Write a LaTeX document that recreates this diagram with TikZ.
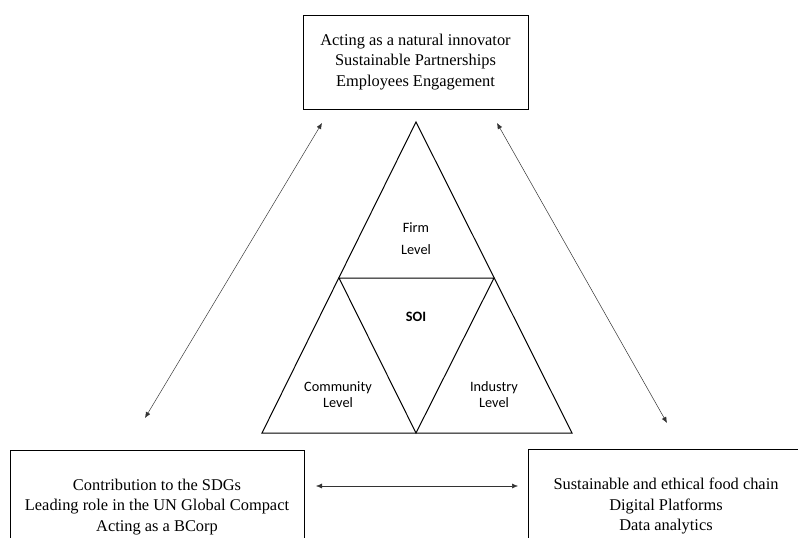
\documentclass[tikz,border=0pt]{standalone}
\usepackage{fontspec}
\setmainfont{Liberation Serif}
\newfontfamily\calibrifont{Carlito}
\usetikzlibrary{arrows.meta}

\tikzset{
  infobox/.style={draw, line width=0.9pt, align=center, inner sep=0pt,
    font=\fontsize{16.4}{20.2}\selectfont},
  level/.style={align=center, inner sep=1pt, font=\calibrifont\fontsize{14.3}{22}\selectfont},
  link/.style={{Latex[length=6pt,width=5pt]}-{Latex[length=6pt,width=5pt]}, line width=0.5pt, black!80}
}

\begin{document}
\begin{tikzpicture}[x=1pt, y=-1pt]
  \clip (0,0) rectangle (798,538);
  % boxes
  \node[infobox, minimum width=225pt, minimum height=94pt] (firmbox) at (415.5,62)
    {Acting as a natural innovator\\Sustainable Partnerships\\Employees Engagement};
  \node[infobox, minimum width=294pt, minimum height=114pt] (commbox) at (157,507)
    {Contribution to the SDGs\\Leading role in the UN Global Compact\\Acting as a BCorp};
  \node[infobox, minimum width=276pt, minimum height=114pt] (indbox) at (666,506)
    {Sustainable and ethical food chain\\Digital Platforms\\Data analytics};

  % triangle
  \coordinate (apex) at (416,122);
  \coordinate (bl) at (262,433);
  \coordinate (br) at (572,433);
  \coordinate (bm) at (416,433);
  \coordinate (ml) at (339,278);
  \coordinate (mr) at (494,278);
  \draw[line width=1pt, line join=miter] (apex) -- (br) -- (bl) -- cycle;
  \draw[line width=1pt] (ml) -- (mr) -- (bm) -- cycle;
  \node[level] (firm) at (416,239) {Firm\\Level};
  \node[level, font=\calibrifont\bfseries\fontsize{14.3}{22}\selectfont] (soi) at (416,317) {SOI};
  \node[level] (community) at (338,395) {Community\\[-6pt]Level};
  \node[level] (industry) at (494,395) {Industry\\[-6pt]Level};

  % connectors
  \coordinate (lt) at (322,123);
  \coordinate (lb) at (145,418);
  \coordinate (rt) at (497,123);
  \coordinate (rb) at (667,423);
  \coordinate (hl) at (316,486);
  \coordinate (hr) at (518,486);
  \draw[link] (lb) -- (lt);
  \draw[link] (rt) -- (rb);
  \draw[link] (hl) -- (hr);
\end{tikzpicture}
\end{document}
